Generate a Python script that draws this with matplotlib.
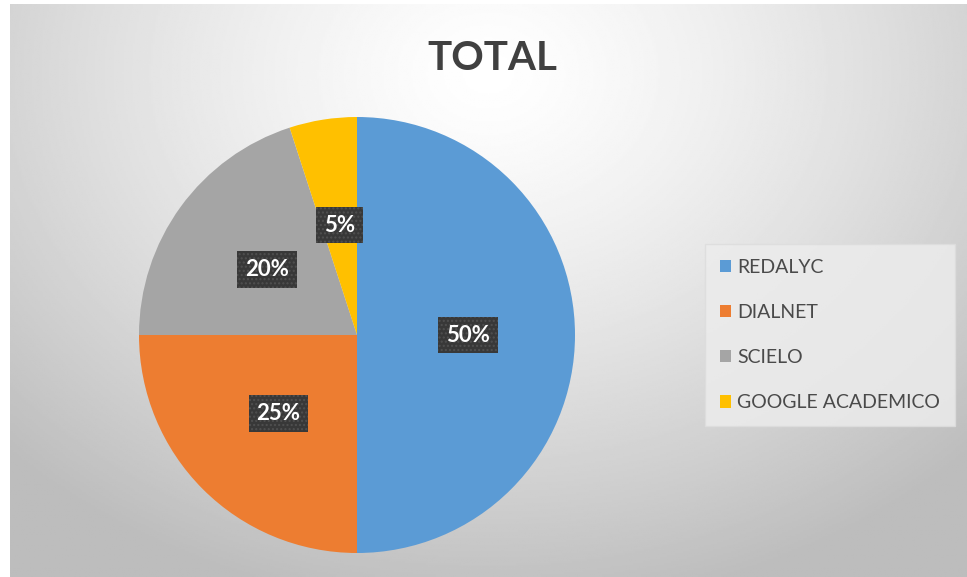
import matplotlib.pyplot as plt
import numpy as np
from matplotlib.patches import Patch

plt.rcParams['font.family'] = ['Lato', 'DejaVu Sans']

categorias = ['REDALYC', 'DIALNET', 'SCIELO', 'GOOGLE ACADEMICO']
valores = [50, 25, 20, 5]
colores = ['#5B9BD5', '#ED7D31', '#A5A5A5', '#FFC000']

W, H = 967, 577
fig = plt.figure(figsize=(W / 100, H / 100), dpi=100)
fig.patch.set_facecolor('white')

# fondo con degradado radial
bg = fig.add_axes([10 / W, 0, 1 - 10 / W, 1 - 4 / H])
yy, xx = np.mgrid[0:1:300j, 0:1:500j]
d = np.sqrt(((xx - 0.5) / 0.75) ** 2 + ((yy - 0.12) / 1.0) ** 2)
g = np.clip(1.0 - 0.28 * d ** 1.3, 0.74, 1.0)
bg.imshow(g, cmap='gray', vmin=0, vmax=1, aspect='auto', extent=[0, 1, 1, 0])
bg.set_axis_off()

# pastel
cx, cy, r = 357, 335, 218
ax = fig.add_axes([(cx - r) / W, 1 - (cy + r) / H, 2 * r / W, 2 * r / H])
ax.pie(valores, colors=colores, startangle=90, counterclock=False, radius=1,
       wedgeprops=dict(linewidth=0))
ax.set_xlim(-1, 1)
ax.set_ylim(-1, 1)
ax.set_aspect('equal')
ax.set_axis_off()

# etiquetas de porcentaje
ang = 90
for v in valores:
    mid = np.deg2rad(ang - v * 3.6 / 2)
    ang -= v * 3.6
    ax.text(0.51 * np.cos(mid), 0.51 * np.sin(mid), f'{v}%', ha='center', va='center',
            color='white', fontsize=16, fontweight='bold',
            bbox=dict(boxstyle='square,pad=0.35', facecolor='#383838',
                      edgecolor='#505050', hatch='....', linewidth=0))

fig.text(492 / W, 1 - 58 / H, 'TOTAL', ha='center', va='center',
         fontsize=29, fontweight='bold', color='#404040')

handles = [Patch(facecolor=c, edgecolor='none') for c in colores]
leg = fig.legend(handles, categorias, loc='center', bbox_to_anchor=(830 / W, 1 - 335 / H),
                 fontsize=14, labelcolor='#4a4a4a', frameon=True, fancybox=False,
                 facecolor='#ececec', edgecolor='#dddddd', labelspacing=1.45,
                 handlelength=0.6, handleheight=0.6, handletextpad=0.3,
                 borderpad=0.75, borderaxespad=0)
leg.get_frame().set_alpha(0.85)

fig.savefig('out.png', dpi=100)
